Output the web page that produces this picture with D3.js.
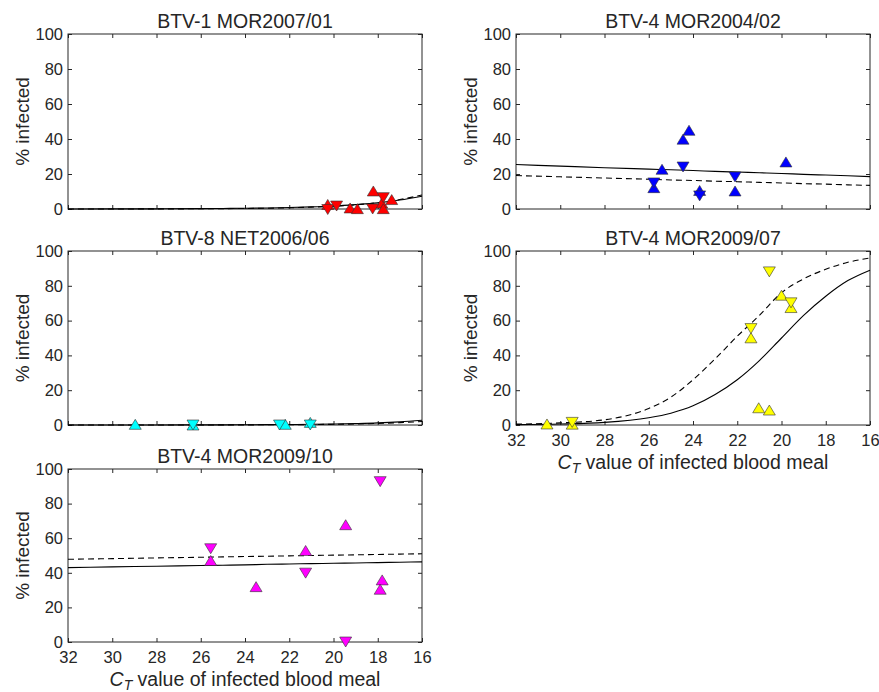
<!DOCTYPE html>
<html>
<meta charset="utf-8">
<title>Infection vs CT value</title>
<style>
	body {
		margin: 0;
		background: #fff;
		font-family: "Liberation Sans", Arial, sans-serif;
	}

	.axis-box {
		fill: none;
		stroke: #262626;
		stroke-width: 1;
	}

	.tick line {
		stroke: #262626;
		stroke-width: 1;
	}

	text {
		fill: #262626;
	}

	.fit {
		fill: none;
		stroke: #000;
		stroke-width: 1.1;
	}

	.fit.dashed {
		stroke-dasharray: 6, 4;
	}

	.marker {
		stroke: #333;
		stroke-width: 0.6;
	}
</style>

<body>
	<svg id="chart" width="879" height="692"></svg>

	<script src="https://cdnjs.cloudflare.com/ajax/libs/d3/7.8.5/d3.min.js"></script>
	<script>
		// ---- data ----
		var titles = ["BTV-1 MOR2007/01", "BTV-4 MOR2004/02", "BTV-8 NET2006/06", "BTV-4 MOR2009/07", "BTV-4 MOR2009/10"];
		var colors = ["#ff0000", "#0000ff", "#00ffff", "#ffff00", "#ff00ff"];
		var xTicks = [32, 30, 28, 26, 24, 22, 20, 18, 16];
		var yTicks = [0, 20, 40, 60, 80, 100];

		// points: [CT value, % infected], up / down triangles
		var btv1Up = [[20.26, 2.6], [19.25, 0.6], [18.92, 0.2], [18.2, 10.3], [17.82, 3.4], [17.75, 0.2], [17.37, 5.4]];
		var btv1Down = [[20.26, -0.3], [19.86, 1.7], [18.23, 0], [17.75, 6.5]];
		var btv4aUp = [[25.77, 12.2], [25.4, 22.7], [24.45, 39.9], [24.18, 45], [23.7, 10.6], [22.1, 10.3], [19.8, 26.9]];
		var btv4aDown = [[25.77, 14.9], [24.45, 24], [23.7, 7.5], [22.1, 18.3]];
		var btv8Up = [[28.96, 0.4], [26.35, 0], [22.18, 0.4], [21.05, 1.5]];
		var btv8Down = [[26.35, 0], [22.44, 0], [21.05, 0]];
		var btv4bUp = [[30.6, 0.6], [29.46, 0.5], [21.38, 50.1], [21.03, 9.9], [20.55, 8.6], [20.0, 74.6], [19.57, 67.5]];
		var btv4bDown = [[29.46, 1.5], [21.38, 55.4], [20.55, 88], [19.57, 70.2]];
		var btv4cUp = [[25.55, 47.1], [23.5, 32], [21.26, 52.9], [19.45, 67.8], [17.8, 35.9], [17.89, 30.5]];
		var btv4cDown = [[25.55, 53.9], [21.26, 39.8], [19.45, 0], [17.89, 92.7]];

		// fitted curves sampled at these CT values
		var curveCt = [32, 30, 28, 26, 25, 24, 23, 22, 21, 20, 19, 18, 17, 16];
		var btv1Solid = [0.02, 0.05, 0.1, 0.2, 0.3, 0.4, 0.6, 0.85, 1.2, 1.7, 2.5, 3.5, 5.1, 7.3];
		var btv1Dashed = [0.01, 0.03, 0.06, 0.13, 0.2, 0.3, 0.45, 0.7, 1.05, 1.6, 2.4, 3.6, 5.4, 8.0];
		var btv4aSolid = [25.4, 24.5, 23.6, 22.8, 22.4, 22.0, 21.5, 21.1, 20.7, 20.3, 19.8, 19.4, 19.0, 18.5];
		var btv4aDashed = [19.1, 18.4, 17.7, 17.0, 16.6, 16.3, 15.9, 15.6, 15.2, 14.9, 14.5, 14.2, 13.8, 13.5];
		var btv8Solid = [0.01, 0.02, 0.04, 0.08, 0.1, 0.15, 0.2, 0.3, 0.4, 0.6, 0.85, 1.2, 1.8, 2.7];
		var btv8Dashed = [0.005, 0.01, 0.015, 0.03, 0.05, 0.08, 0.12, 0.18, 0.27, 0.4, 0.6, 0.9, 1.35, 2.0];
		var btv4bSolid = [0.2, 0.55, 1.5, 4.2, 6.8, 11, 17.5, 26, 37, 50, 63, 74, 83, 89];
		var btv4bDashed = [0.5, 1.2, 3.0, 9.5, 16, 26, 38, 51, 63, 76, 84, 89.5, 93.5, 96];
		var btv4cSolid = [43.0, 43.4, 43.8, 44.2, 44.4, 44.6, 44.9, 45.1, 45.3, 45.5, 45.7, 45.9, 46.1, 46.3];
		var btv4cDashed = [47.8, 48.2, 48.6, 49.0, 49.2, 49.4, 49.6, 49.8, 50.0, 50.2, 50.4, 50.6, 50.8, 51.0];

		// ---- layout ----
		var panels = [
			{ left: 68, top: 34, h: 175, up: btv1Up, down: btv1Down, solid: btv1Solid, dashed: btv1Dashed, xlab: false },
			{ left: 516, top: 34, h: 175, up: btv4aUp, down: btv4aDown, solid: btv4aSolid, dashed: btv4aDashed, xlab: false },
			{ left: 68, top: 251, h: 174, up: btv8Up, down: btv8Down, solid: btv8Solid, dashed: btv8Dashed, xlab: false },
			{ left: 516, top: 251, h: 174, up: btv4bUp, down: btv4bDown, solid: btv4bSolid, dashed: btv4bDashed, xlab: true },
			{ left: 68, top: 469, h: 173, up: btv4cUp, down: btv4cDown, solid: btv4cSolid, dashed: btv4cDashed, xlab: true }
		];
		var plotW = 354, tickLen = 4;

		var svg = d3.select("#chart");

		var triUp = "M0,-5L6,5L-6,5Z",
			triDown = "M0,5L6,-5L-6,-5Z";

		panels.forEach(function (p, i) {
			var x = d3.scaleLinear().domain([32, 16]).range([0, plotW]);
			var y = d3.scaleLinear().domain([0, 100]).range([p.h, 0]);

			var g = svg.append("g")
				.attr("transform", "translate(" + p.left + "," + p.top + ")");

			// inward ticks, all four sides
			var xb = d3.axisBottom(x).tickValues(xTicks).tickSizeInner(-tickLen).tickSizeOuter(0)
				.tickFormat(p.xlab ? d3.format("d") : "");
			var xt = d3.axisTop(x).tickValues(xTicks).tickSizeInner(-tickLen).tickSizeOuter(0).tickFormat("");
			var yl = d3.axisLeft(y).tickValues(yTicks).tickSizeInner(-tickLen).tickSizeOuter(0);
			var yr = d3.axisRight(y).tickValues(yTicks).tickSizeInner(-tickLen).tickSizeOuter(0).tickFormat("");

			function style(sel) {
				sel.select(".domain").remove();
				sel.selectAll("text").style("font-size", "16.5px").style("font-family", "Liberation Sans, Arial, sans-serif");
			}

			g.append("g").attr("transform", "translate(0," + p.h + ")").call(xb).call(style)
				.selectAll("text").attr("y", 9).attr("dy", "0.71em");
			g.append("g").call(xt).call(style);
			g.append("g").call(yl).call(style)
				.selectAll("text").attr("x", -5);
			g.append("g").attr("transform", "translate(" + plotW + ",0)").call(yr).call(style);

			g.append("rect").attr("class", "axis-box")
				.attr("width", plotW).attr("height", p.h);

			// fitted lines
			var line = d3.line()
				.x(function (d, k) { return x(curveCt[k]); })
				.y(function (d) { return y(d); })
				.curve(d3.curveMonotoneX);

			g.append("path").attr("class", "fit").attr("d", line(p.solid));
			g.append("path").attr("class", "fit dashed").attr("d", line(p.dashed));

			// markers
			g.selectAll(".up").data(p.up).enter().append("path")
				.attr("class", "marker up")
				.attr("d", triUp)
				.attr("fill", colors[i])
				.attr("transform", function (d) { return "translate(" + x(d[0]) + "," + y(d[1]) + ")"; });

			g.selectAll(".down").data(p.down).enter().append("path")
				.attr("class", "marker down")
				.attr("d", triDown)
				.attr("fill", colors[i])
				.attr("transform", function (d) { return "translate(" + x(d[0]) + "," + y(d[1]) + ")"; });

			// title
			g.append("text")
				.attr("x", plotW / 2).attr("y", -6)
				.attr("text-anchor", "middle")
				.style("font-size", "19.5px")
				.text(titles[i]);

			// y label
			g.append("text")
				.attr("transform", "translate(" + (22 - 68) + "," + (p.h / 2) + ") rotate(-90)")
				.attr("text-anchor", "middle")
				.attr("dy", "0.35em")
				.style("font-size", "19px")
				.text("% infected");

			// x label
			if (p.xlab) {
				var t = g.append("text")
					.attr("x", plotW / 2).attr("y", p.h + 44)
					.attr("text-anchor", "middle")
					.style("font-size", "19.5px");
				t.append("tspan").style("font-style", "italic").text("C");
				t.append("tspan").style("font-style", "italic").style("font-size", "14px").attr("dy", 4).text("T");
				t.append("tspan").attr("dy", -4).text(" value of infected blood meal");
			}
		});
	</script>
</body>

</html>
